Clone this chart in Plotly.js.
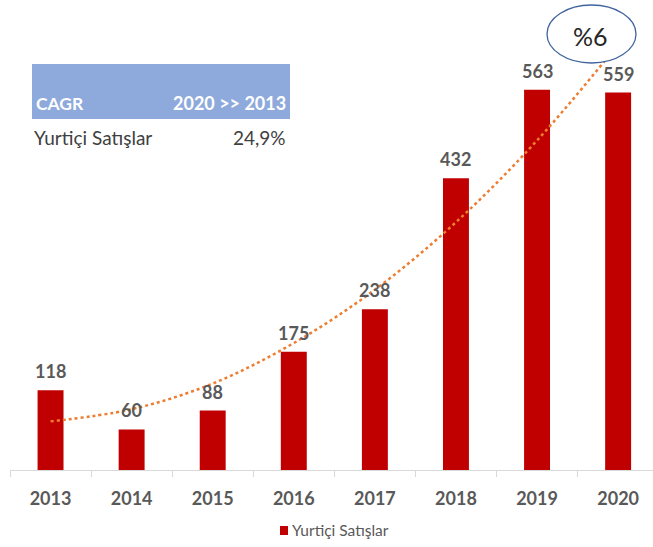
<!DOCTYPE html>
<html>
<head>
<meta charset="utf-8">
<script src="https://cdn.plot.ly/plotly-3.0.1.min.js"></script>
<style>
  body { margin: 0; background: #fff; }
  #chart { width: 653px; height: 547px; }
</style>
</head>
<body>
<div id="chart"></div>
<script>
var years = ['2013', '2014', '2015', '2016', '2017', '2018', '2019', '2020'];
var sales = [118, 60, 88, 175, 238, 432, 563, 559];
// polynomial trend
var trend = [72, 90, 128, 188, 267, 367, 488, 630];

var seriesName = 'Yurtiçi Satışlar';
var cagrLabel = 'CAGR';
var cagrPeriod = '2020 >> 2013';
var cagrValue = '24,9%';
var bubbleText = '%6';

var FONT = 'Lato, "Open Sans", sans-serif';

// pixel helpers for the overlay (plot area: left 10, top 0, 643 x 470)
var px = (x) => (x - 10) / 643;
var py = (y) => (470 - y) / 470;

var bars = {
    x: years,
    y: sales,
    type: 'bar',
    name: seriesName,
    width: 0.32,
    marker: {color: '#C00000'},
    hoverinfo: 'x+y'
};

var trendLine = {
    x: years,
    y: trend,
    type: 'scatter',
    mode: 'lines',
    line: {color: '#ED7D31', width: 2.5, dash: 'dot', shape: 'spline'},
    hoverinfo: 'skip'
};

// value labels over the bars (x given as category index)
var valueLabels = sales.map((v, i) => ({
    x: i, y: v, xref: 'x', yref: 'y',
    text: String(v),
    showarrow: false,
    yanchor: 'bottom',
    yshift: 6,
    font: {size: 18, color: '#595959', weight: 'bold'}
}));

var layout = {
    width: 653,
    height: 547,
    margin: {l: 10, r: 0, t: 0, b: 77},
    paper_bgcolor: '#fff',
    plot_bgcolor: '#fff',
    font: {family: FONT, color: '#595959'},
    showlegend: false,
    xaxis: {
        type: 'category',
        range: [-0.5, 7.43],
        showline: true,
        linecolor: '#D9D9D9',
        linewidth: 1,
        ticks: 'outside',
        tickson: 'boundaries',
        ticklen: 6,
        tickcolor: '#D9D9D9',
        ticklabelstandoff: 12,
        tickfont: {size: 18, color: '#595959', weight: 'bold'},
        showgrid: false,
        fixedrange: true
    },
    yaxis: {
        range: [0, 696],
        visible: false,
        showgrid: false,
        zeroline: false,
        fixedrange: true
    },
    shapes: [
        {
            type: 'rect', xref: 'paper', yref: 'paper', layer: 'above',
            x0: px(32), x1: px(290), y0: py(119), y1: py(64),
            fillcolor: '#8EA9DB', line: {width: 0}
        },
        {
            type: 'circle', xref: 'paper', yref: 'paper', layer: 'above',
            x0: px(547), x1: px(636), y0: py(63), y1: py(5),
            fillcolor: '#fff', line: {color: '#41649E', width: 1.3}
        },
        // legend key
        {
            type: 'rect', xref: 'paper', yref: 'paper', layer: 'above',
            x0: px(280), x1: px(288), y0: py(535), y1: py(526),
            fillcolor: '#C00000', line: {width: 0}
        }
    ],
    annotations: valueLabels.concat([
        {
            xref: 'paper', yref: 'paper', x: px(34), y: py(103),
            xanchor: 'left', yanchor: 'middle', showarrow: false,
            text: cagrLabel,
            font: {size: 17.5, color: '#fff', weight: 'bold'}
        },
        {
            xref: 'paper', yref: 'paper', x: px(288), y: py(103),
            xanchor: 'right', yanchor: 'middle', showarrow: false,
            text: cagrPeriod,
            font: {size: 18, color: '#fff', weight: 'bold'}
        },
        {
            xref: 'paper', yref: 'paper', x: px(32), y: py(137),
            xanchor: 'left', yanchor: 'middle', showarrow: false,
            text: seriesName,
            font: {size: 19, color: '#404040'}
        },
        {
            xref: 'paper', yref: 'paper', x: px(288), y: py(137),
            xanchor: 'right', yanchor: 'middle', showarrow: false,
            text: cagrValue,
            font: {size: 19, color: '#404040'}
        },
        {
            xref: 'paper', yref: 'paper', x: px(590), y: py(36),
            xanchor: 'center', yanchor: 'middle', showarrow: false,
            text: bubbleText,
            font: {size: 25, color: '#262626'}
        },
        {
            xref: 'paper', yref: 'paper', x: px(290), y: py(530),
            xanchor: 'left', yanchor: 'middle', showarrow: false,
            text: seriesName,
            font: {size: 15.5, color: '#595959'}
        }
    ])
};

Plotly.newPlot('chart', [trendLine, bars], layout, {displayModeBar: false, staticPlot: true});
</script>
</body>
</html>
